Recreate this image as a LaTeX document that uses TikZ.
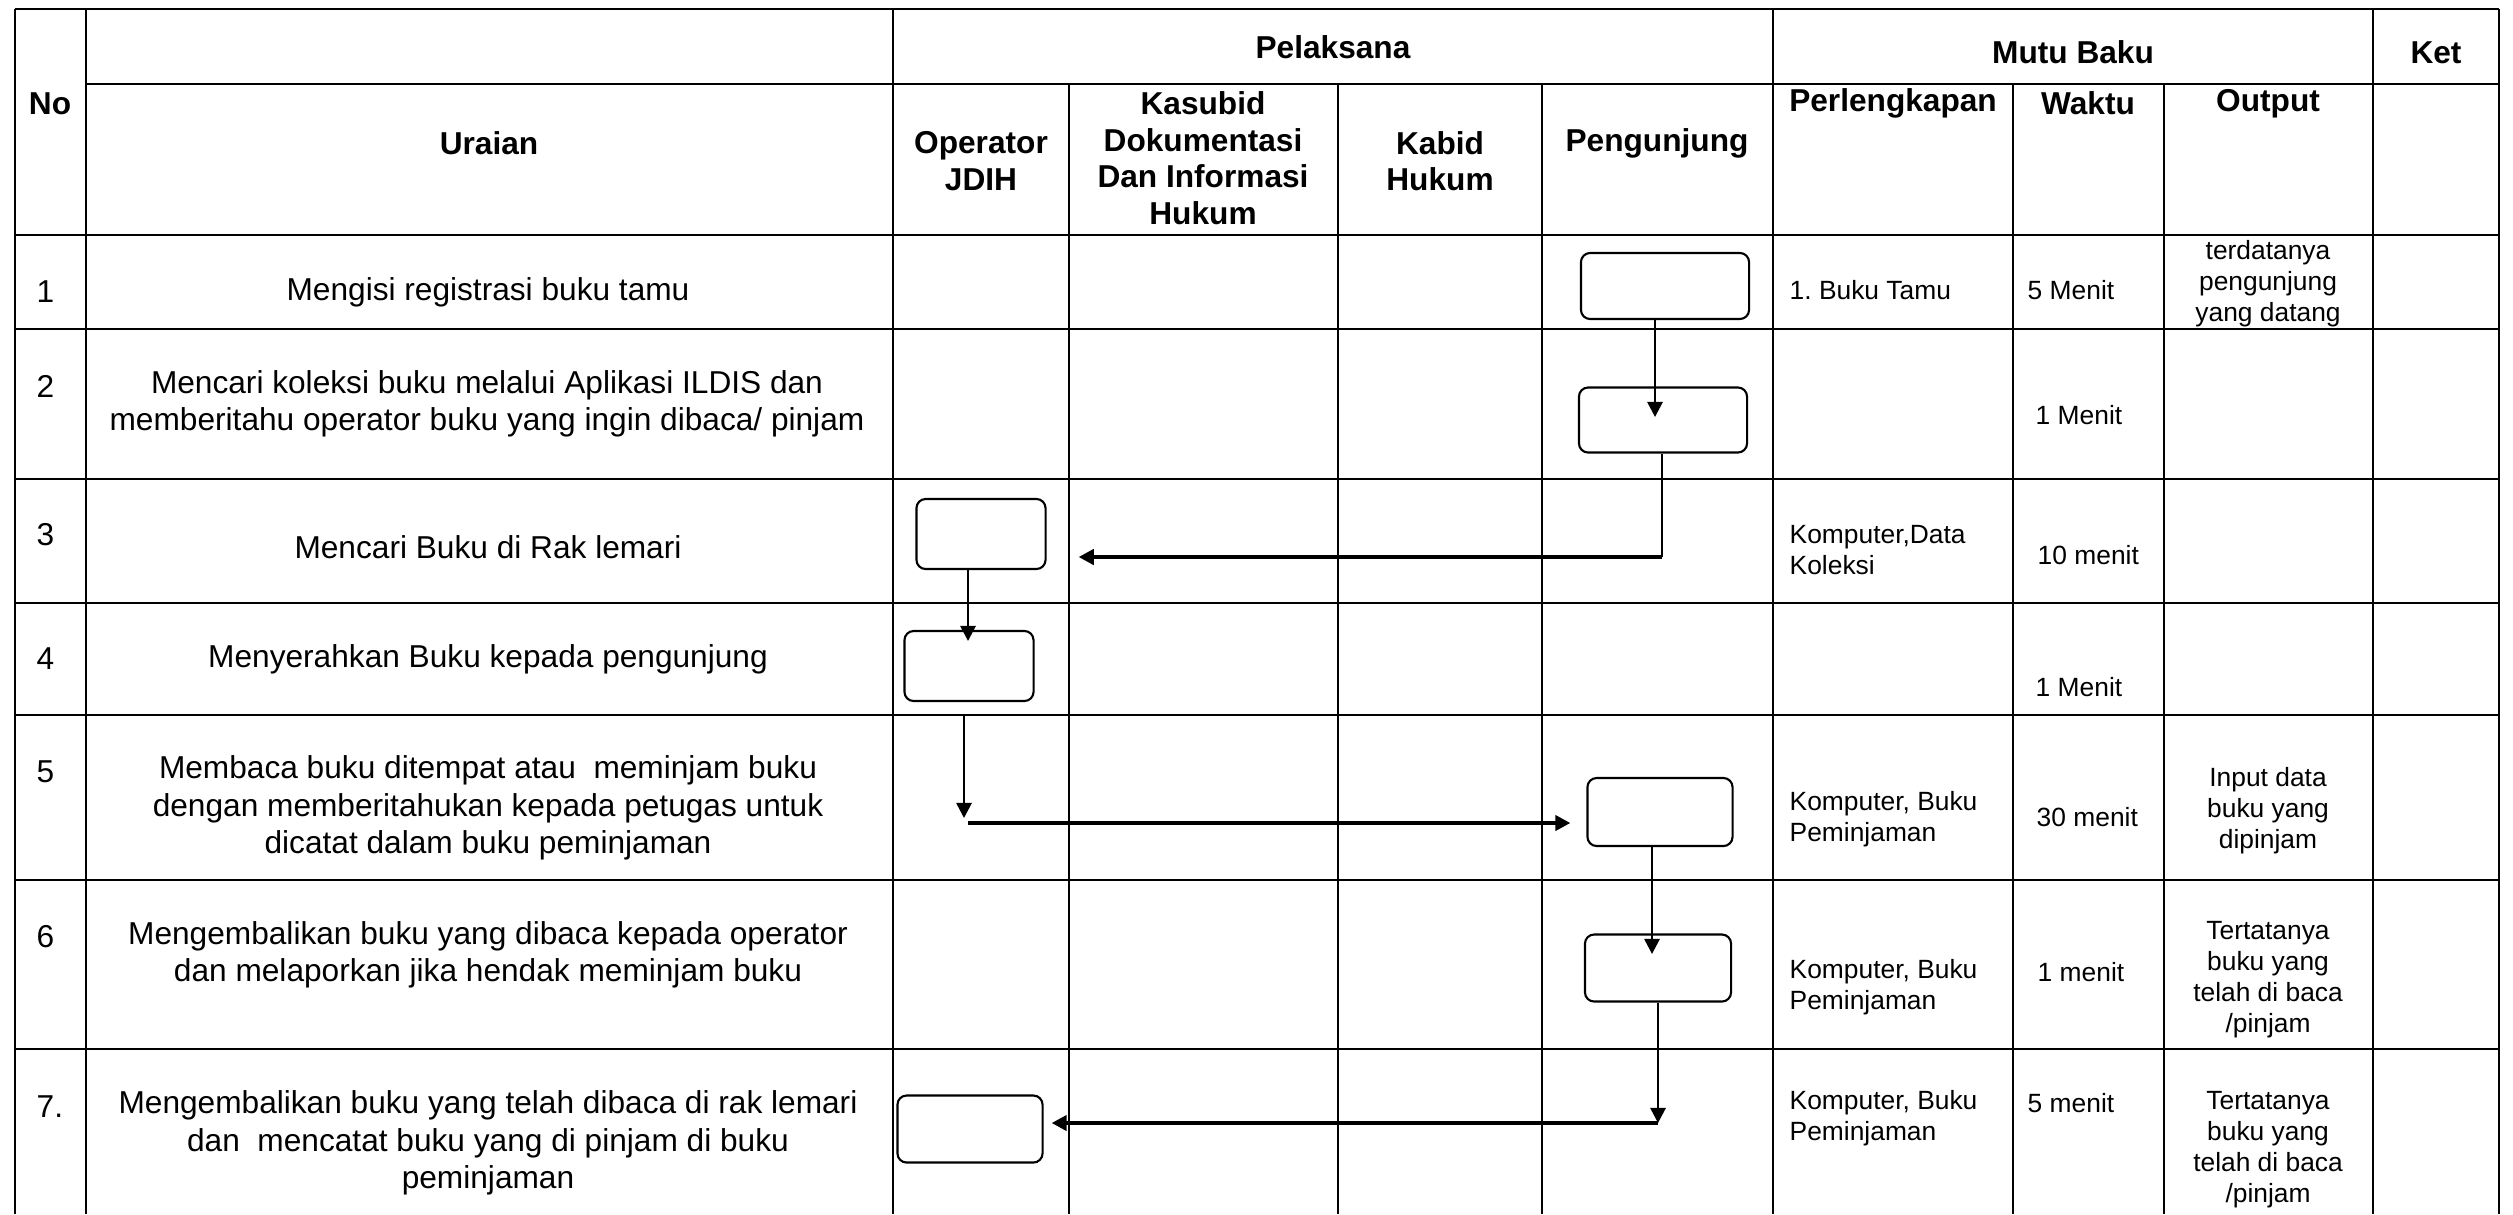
\documentclass[tikz,border=0pt]{standalone}
\usepackage{fontspec}
\setmainfont{Liberation Sans}
\usepackage{tikz}
\usetikzlibrary{arrows.meta}
\usetikzlibrary{positioning}

\begin{document}
\begin{tikzpicture}[x=0.01cm,y=-0.01cm,>={Triangle[length=4.3pt,width=4.3pt]},
    grid/.style={line width=0.6pt},
    box/.style={draw,rounded corners=2.6pt,line width=0.6pt,inner sep=0pt},
    hdr/.style={font=\fontsize{9}{10.4}\selectfont\bfseries,align=center,inner sep=0pt},
    txt/.style={font=\fontsize{9}{10.6}\selectfont,align=center,inner sep=0pt},
    sml/.style={font=\fontsize{7.5}{8.8}\selectfont,inner sep=0pt},
    flow/.style={->,line width=0.75pt},
    bigflow/.style={->,line width=1.2pt}]
  \useasboundingbox (0,0) rectangle (2513,1214);

  % table lines
  \draw[grid] (15,9) -- (2499,9);
  \draw[grid] (86,84) -- (2499,84);
  \draw[grid] (15,235) -- (2499,235);
  \draw[grid] (15,329) -- (2499,329);
  \draw[grid] (15,479) -- (2499,479);
  \draw[grid] (15,603) -- (2499,603);
  \draw[grid] (15,715) -- (2499,715);
  \draw[grid] (15,880) -- (2499,880);
  \draw[grid] (15,1049) -- (2499,1049);
  \draw[grid] (15,9) -- (15,1214);
  \draw[grid] (86,9) -- (86,1214);
  \draw[grid] (893,9) -- (893,1214);
  \draw[grid] (1773,9) -- (1773,1214);
  \draw[grid] (2373,9) -- (2373,1214);
  \draw[grid] (2499,9) -- (2499,1214);
  \draw[grid] (1069,84) -- (1069,1214);
  \draw[grid] (1338,84) -- (1338,1214);
  \draw[grid] (1542,84) -- (1542,1214);
  \draw[grid] (2013,84) -- (2013,1214);
  \draw[grid] (2164,84) -- (2164,1214);

  % header
  \node[hdr] (no) at (50,104) {No};
  \node[hdr] (uraian) at (489,143) {Uraian};
  \node[hdr] (pel) at (1333,47) {Pelaksana};
  \node[hdr] (mutu) at (2073,52) {Mutu Baku};
  \node[hdr] (ket) at (2436,53) {Ket};
  \node[hdr] (op) at (981,161) {Operator\\JDIH};
  \node[hdr] (kas) at (1203,158) {Kasubid\\Dokumentasi\\Dan Informasi\\Hukum};
  \node[hdr] (kab) at (1440,161) {Kabid\\Hukum};
  \node[hdr] (pen) at (1657,143) {Pengunjung};
  \node[hdr] (perl) at (1893,103) {Perlengkapan};
  \node[hdr] (wak) at (2088,103) {Waktu};
  \node[hdr] (out) at (2268,104) {Output};

  % uraian
  \node[txt,anchor=west] (n1) at (36,292) {1};
  \node[txt,anchor=west] (n2) at (36,386) {2};
  \node[txt,anchor=west] (n3) at (36,535) {3};
  \node[txt,anchor=west] (n4) at (36,659) {4};
  \node[txt,anchor=west] (n5) at (36,772) {5};
  \node[txt,anchor=west] (n6) at (36,937) {6};
  \node[txt,anchor=west] (n7) at (36,1107) {7.};
  \node[txt] (u1) at (488,292) {Mengisi registrasi buku tamu};
  \node[txt] (u2) at (487,404) {Mencari koleksi buku melalui Aplikasi ILDIS dan\\memberitahu operator buku yang ingin dibaca/ pinjam};
  \node[txt] (u3) at (488,547) {Mencari Buku di Rak lemari};
  \node[txt] (u4) at (488,659) {Menyerahkan Buku kepada pengunjung};
  \node[txt] (u5) at (488,808) {Membaca buku ditempat atau~ meminjam buku\\dengan memberitahukan kepada petugas untuk\\dicatat dalam buku peminjaman};
  \node[txt] (u6) at (488,955) {Mengembalikan buku yang dibaca kepada operator\\dan melaporkan jika hendak meminjam buku};
  \node[txt] (u7) at (488,1143) {Mengembalikan buku yang telah dibaca di rak lemari\\dan~ mencatat buku yang di pinjam di buku\\peminjaman};

  % mutu baku
  \node[sml,anchor=west] (a1) at (1789,290) {1.\ Buku Tamu};
  \node[sml,anchor=west] (w1) at (2027,290) {5 Menit};
  \node[sml,align=center] (h1) at (2268,284) {terdatanya\\pengunjung\\yang datang};
  \node[sml,anchor=west] (w2) at (2035,415) {1 Menit};
  \node[sml,anchor=west,align=left] (a3) at (1789,550) {Komputer,Data\\Koleksi};
  \node[sml,anchor=west] (w3) at (2037,555) {10 menit};
  \node[sml,anchor=west] (w4) at (2035,687) {1 Menit};
  \node[sml,anchor=west,align=left] (a5) at (1789,819) {Komputer, Buku\\Peminjaman};
  \node[sml,anchor=west] (w5) at (2036,817) {30 menit};
  \node[sml,align=center] (h5) at (2268,811) {Input data\\buku yang\\dipinjam};
  \node[sml,anchor=west,align=left] (a6) at (1789,987) {Komputer, Buku\\Peminjaman};
  \node[sml,anchor=west] (w6) at (2037,972) {1 menit};
  \node[sml,align=center] (h6) at (2268,980) {Tertatanya\\buku yang\\telah di baca\\/pinjam};
  \node[sml,anchor=west,align=left] (a7) at (1789,1118) {Komputer, Buku\\Peminjaman};
  \node[sml,anchor=west] (w7) at (2027,1103) {5 menit};
  \node[sml,align=center] (h7) at (2268,1150) {Tertatanya\\buku yang\\telah di baca\\/pinjam};

  % flow boxes
  \node[box,minimum width=1.68cm,minimum height=0.66cm] (p1) at (1665,286) {};
  \node[box,minimum width=1.68cm,minimum height=0.65cm] (p2) at (1663,420) {};
  \node[box,minimum width=1.29cm,minimum height=0.70cm] (o3) at (981,534) {};
  \node[box,minimum width=1.29cm,minimum height=0.70cm] (o4) at (969,666) {};
  \node[box,minimum width=1.45cm,minimum height=0.68cm] (p5) at (1660,812) {};
  \node[box,minimum width=1.46cm,minimum height=0.67cm] (p6) at (1658,968) {};
  \node[box,minimum width=1.45cm,minimum height=0.67cm] (o7) at (970,1129) {};

  % connectors
  \coordinate (k1) at (1655,417);
  \draw[flow] (p1.south -| k1) -- (k1);
  \coordinate (k2) at (1662,557);
  \draw[line width=0.75pt] (p2.south -| k2) -- (k2);
  \draw[bigflow,shorten >=0.32cm] (k2) -- (k2 -| o3.east);
  \coordinate (k3) at (968,641);
  \draw[flow] (o3.south -| k3) -- (k3);
  \coordinate (k4) at (964,716);
  \coordinate (k5) at (964,818);
  \draw[flow] (k4) -- (k5);
  \coordinate (k6) at (968,823);
  \draw[bigflow,shorten >=0.16cm] (k6) -- (k6 -| p5.west);
  \coordinate (k7) at (1652,954);
  \draw[flow] (p5.south -| k7) -- (k7);
  \coordinate (k8) at (1658,1123);
  \draw[flow] (p6.south -| k8) -- (k8);
  \draw[bigflow,shorten >=0.08cm] (k8) -- (k8 -| o7.east);
\end{tikzpicture}
\end{document}
